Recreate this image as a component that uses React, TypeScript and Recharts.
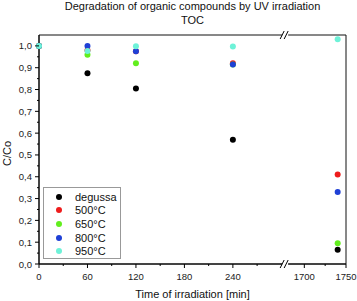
import React from "react"
import { ReferenceArea, ReferenceDot, Legend, Scatter, ScatterChart, XAxis, YAxis } from "recharts"

// measured values (C/Co) at each irradiation time [min]
const times = [0, 60, 120, 240, 1740]
const degussa = [1.0, 0.875, 0.805, 0.57, 0.065]
const c500 = [1.0, 0.98, 0.975, 0.92, 0.41]
const c650 = [1.0, 0.96, 0.92, 0.915, 0.095]
const c800 = [1.0, 1.0, 0.975, 0.915, 0.33]
const c950 = [1.0, 0.977, 0.998, 0.997, 1.03]

const seriesNames = ["degussa", "500°C", "650°C", "800°C", "950°C"]
const seriesValues = [degussa, c500, c650, c800, c950]
const seriesColors = ["#000000", "#ee1c1c", "#62ee1e", "#1f40d6", "#6ef2d8"]

const leftTicks = [0, 30, 60, 90, 120, 150, 180, 210, 240, 270]
const leftLabels = [0, 60, 120, 180, 240]
const rightTicks = [1700, 1725, 1750]
const rightLabels = [1700, 1750]
const yTicks = [0, 0.05, 0.1, 0.15, 0.2, 0.25, 0.3, 0.35, 0.4, 0.45, 0.5, 0.55, 0.6, 0.65, 0.7, 0.75, 0.8, 0.85, 0.9, 0.95, 1.0]

// broken x axis: left part 0..BREAK, right part RIGHT_START..1750
const BREAK = 304.7
const RIGHT_START = 1677
const K = 1.032

const toU = (t: number) => (t <= BREAK ? t : BREAK + (t - RIGHT_START) * K)
const fromU = (u: number) => (u <= BREAK + 0.01 ? u : RIGHT_START + (u - BREAK) / K)
const XMAX = toU(1750)

const FONT = "'Liberation Sans', Arial, sans-serif"

const XTick = (props: any) => {
  const { x, y, payload } = props
  const t = Math.round(fromU(payload.value))
  const major = leftLabels.includes(t) || rightLabels.includes(t)
  return (
    <g>
      <line x1={x} y1={y} x2={x} y2={y + (major ? 4 : 2)} stroke="#000" />
      {major && (
        <text x={x} y={y + 16} textAnchor="middle" fontSize={9.5} fill="#222" fontFamily={FONT}>
          {t}
        </text>
      )}
    </g>
  )
}

const YTick = (props: any) => {
  const { x, y, payload } = props
  const v = payload.value
  const major = Math.abs(v * 10 - Math.round(v * 10)) < 0.001
  return (
    <g>
      <line x1={x} y1={y} x2={x - (major ? 4 : 2)} y2={y} stroke="#000" />
      {major && (
        <text x={x - 7} y={y + 3.5} textAnchor="end" fontSize={9.5} fill="#222" fontFamily={FONT}>
          {v.toFixed(1).replace(".", ",")}
        </text>
      )}
    </g>
  )
}

const BreakMark = (props: any) => {
  const { cx, cy } = props
  return (
    <g>
      <rect x={cx - 3} y={cy - 2} width={6} height={4} fill="#fff" />
      <line x1={cx - 5} y1={cy + 4} x2={cx - 1} y2={cy - 4} stroke="#000" />
      <line x1={cx - 1} y1={cy + 4} x2={cx + 3} y2={cy - 4} stroke="#000" />
    </g>
  )
}

const LegendBox = () => (
  <div
    style={{
      border: "1px solid #999",
      width: 78,
      height: 72,
      boxSizing: "border-box",
      paddingTop: 2,
      fontFamily: FONT,
      fontSize: 11,
      color: "#111",
      background: "#fff",
    }}
  >
    {seriesNames.map((n, i) => (
      <div key={n} style={{ height: 13.6, display: "flex", alignItems: "center" }}>
        <span
          style={{
            display: "inline-block",
            width: 6,
            height: 6,
            borderRadius: 3,
            background: seriesColors[i],
            marginLeft: 12,
            marginRight: 13,
          }}
        />
        <span>{n}</span>
      </div>
    ))}
  </div>
)

export default function App() {
  return (
    <div style={{ position: "absolute", left: 0, top: 0, width: 357, height: 301, background: "#fff" }}>
      <div
        style={{
          position: "absolute",
          left: 0,
          top: 0,
          width: 385,
          textAlign: "center",
          fontFamily: FONT,
          fontSize: 11,
          lineHeight: "13.5px",
          color: "#111",
          zIndex: 1,
        }}
      >
        <div>Degradation of organic compounds by UV irradiation</div>
        <div>TOC</div>
      </div>
      <ScatterChart width={357} height={301} margin={{ top: 35, right: 11, bottom: 0, left: 0 }}>
        <XAxis
          type="number"
          dataKey="x"
          domain={[0, XMAX]}
          ticks={[...leftTicks.map(toU), ...rightTicks.map(toU)]}
          interval={0}
          tickSize={0}
          tickMargin={0}
          tick={<XTick />}
          height={37}
          stroke="#000"
          label={{
            content: (p: any) => (
              <text
                x={p.viewBox.x + p.viewBox.width / 2}
                y={p.viewBox.y + 34}
                textAnchor="middle"
                fontSize={11}
                fill="#111"
                fontFamily={FONT}
              >
                Time of irradiation [min]
              </text>
            ),
          }}
        />
        <YAxis
          type="number"
          dataKey="y"
          domain={[0, 1.05]}
          ticks={yTicks}
          interval={0}
          tickSize={0}
          tickMargin={0}
          tick={<YTick />}
          width={39}
          stroke="#000"
          label={{
            content: (p: any) => {
              const cx = p.viewBox.x + 7
              const cy = p.viewBox.y + p.viewBox.height / 2 + 4
              return (
                <text
                  x={cx}
                  y={cy}
                  transform={`rotate(-90, ${cx}, ${cy})`}
                  textAnchor="middle"
                  dominantBaseline="central"
                  fontSize={11}
                  fill="#111"
                  fontFamily={FONT}
                >
                  C/Co
                </text>
              )
            },
          }}
        />
        <ReferenceArea x1={0} x2={XMAX} y1={0} y2={1.05} fill="none" stroke="#111" strokeWidth={1} ifOverflow="visible" />
        {seriesNames.map((n, i) => (
          <Scatter
            key={n}
            name={n}
            data={times.map((t, j) => ({ x: toU(t), y: seriesValues[i][j] }))}
            fill={seriesColors[i]}
            isAnimationActive={false}
            shape={(p: any) => <circle cx={p.cx} cy={p.cy} r={3} fill={seriesColors[i]} />}
          />
        ))}
        <ReferenceDot x={BREAK} y={1.05} r={0} ifOverflow="visible" shape={<BreakMark />} />
        <ReferenceDot x={BREAK} y={0} r={0} ifOverflow="visible" shape={<BreakMark />} />
        <Legend
          layout="horizontal"
          verticalAlign="middle"
          align="center"
          content={<LegendBox />}
          wrapperStyle={{ position: "absolute", left: 43, top: 187, width: 78, height: 72 }}
        />
      </ScatterChart>
    </div>
  )
}
